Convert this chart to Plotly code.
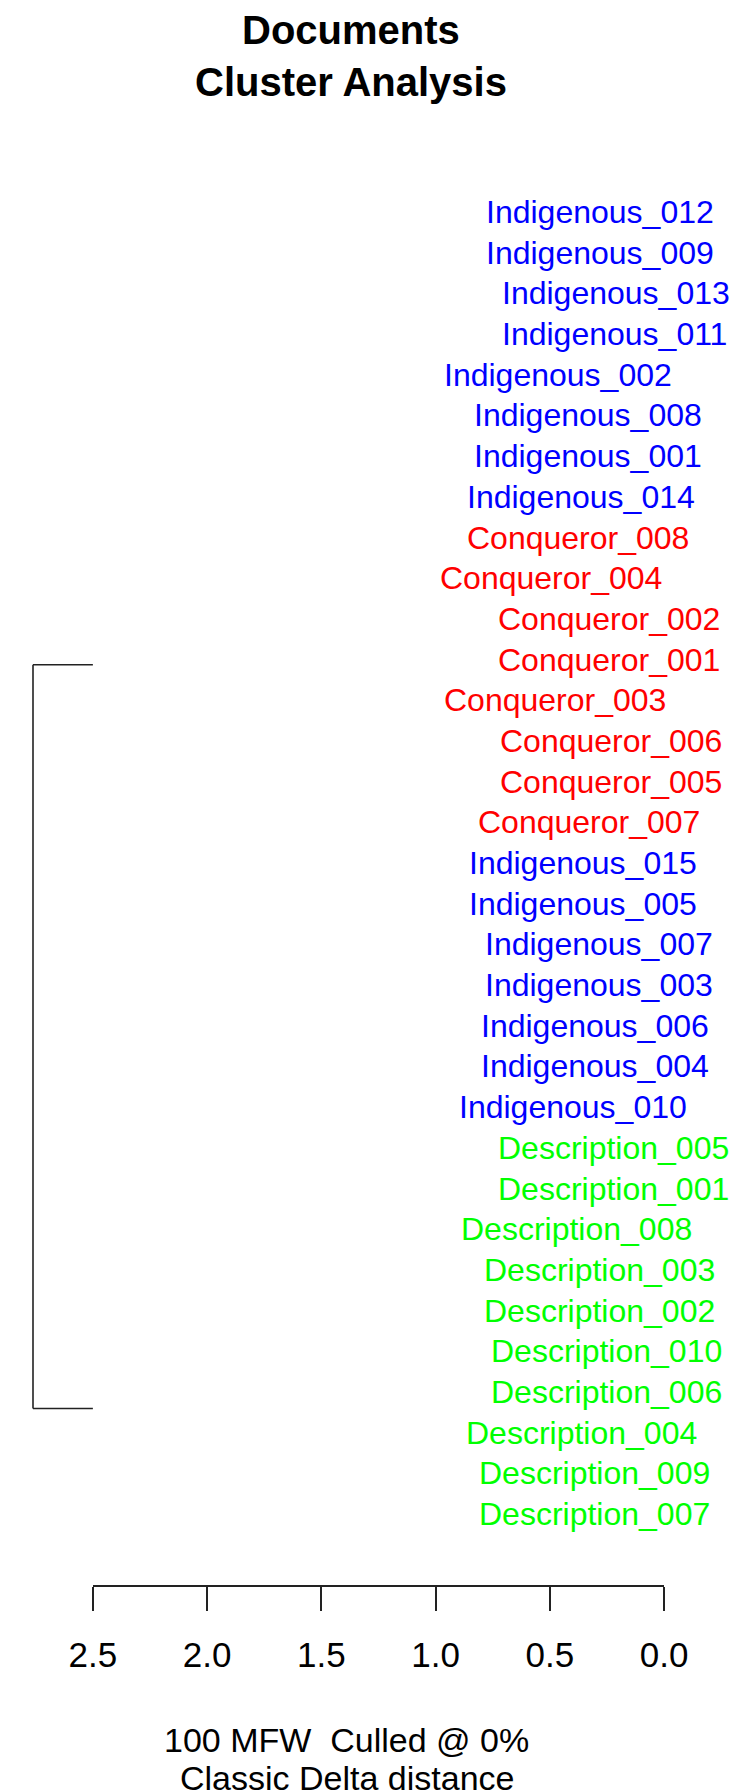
import plotly.graph_objects as go

leaves = ["Indigenous_012","Indigenous_009","Indigenous_013","Indigenous_011","Indigenous_002",
          "Indigenous_008","Indigenous_001","Indigenous_014","Conqueror_008","Conqueror_004",
          "Conqueror_002","Conqueror_001","Conqueror_003","Conqueror_006","Conqueror_005",
          "Conqueror_007","Indigenous_015","Indigenous_005","Indigenous_007","Indigenous_003",
          "Indigenous_006","Indigenous_004","Indigenous_010","Description_005","Description_001",
          "Description_008","Description_003","Description_002","Description_010","Description_006",
          "Description_004","Description_009","Description_007"]
# merges: (node name, left child, right child, height)
merges = [
    ("A","Indigenous_012","Indigenous_009",0.869),
    ("B","Indigenous_013","Indigenous_011",0.799),
    ("C","A","B",0.967),
    ("D","C","Indigenous_002",1.049),
    ("E","Indigenous_008","Indigenous_001",0.918),
    ("F","D","E",1.283),
    ("G","Indigenous_014","Conqueror_008",0.951),
    ("H","G","Conqueror_004",1.070),
    ("I","F","H",1.426),
    ("J","Conqueror_002","Conqueror_001",0.816),
    ("K","J","Conqueror_003",1.053),
    ("L","Conqueror_006","Conqueror_005",0.807),
    ("M","L","Conqueror_007",0.902),
    ("N","K","M",1.139),
    ("O","Indigenous_015","Indigenous_005",0.943),
    ("P","Indigenous_007","Indigenous_003",0.873),
    ("Q","O","P",1.033),
    ("R","Indigenous_006","Indigenous_004",0.889),
    ("S","R","Indigenous_010",0.984),
    ("T","Q","S",1.127),
    ("U","N","T",1.344),
    ("V","I","U",1.459),
    ("W","Description_005","Description_001",0.816),
    ("X","W","Description_008",0.975),
    ("Z","Description_003","Description_002",0.877),
    ("Y","X","Z",0.992),
    ("BB","Description_010","Description_006",0.844),
    ("CC","BB","Description_004",0.955),
    ("AA","Y","CC",1.086),
    ("EE","Description_009","Description_007",0.898),
    ("DD","AA","EE",1.139),
    ("ROOT","V","DD",2.762),
]
colors = {"Indigenous":"#0000FF","Conqueror":"#FF0000","Description":"#00FF00"}
tick_vals = [2.5, 2.0, 1.5, 1.0, 0.5, 0.0]
tick_text = ["2.5","2.0","1.5","1.0","0.5","0.0"]

pos = {n: i for i, n in enumerate(leaves)}
hgt = {n: 0.0 for n in leaves}
parent_h = {}
xs, ys = [], []
for name, a, b, h in merges:
    for c in (a, b):
        parent_h[c] = h
        if c not in leaves:
            xs += [h, hgt[c], None]
            ys += [pos[c], pos[c], None]
    xs += [h, h, None]
    ys += [pos[a], pos[b], None]
    pos[name] = (pos[a] + pos[b]) / 2
    hgt[name] = h

fig = go.Figure()
fig.add_trace(go.Scatter(x=xs, y=ys, mode="lines", line=dict(color="#222222", width=1.6),
                         hoverinfo="skip", showlegend=False))
for n in leaves:
    fig.add_annotation(x=parent_h[n], y=pos[n], text=n, showarrow=False, xanchor="left",
                       yanchor="middle", xshift=18,
                       font=dict(family="Liberation Sans", size=32, color=colors[n.split("_")[0]]))
fig.add_trace(go.Scatter(x=tick_vals, y=[None]*len(tick_vals), xaxis="x2", mode="markers",
                         showlegend=False, hoverinfo="skip"))

W, H = 756, 1790
px0, ppu = 675, 244.0
y0, ypu = 204, 40.69
fig.update_layout(
    width=W, height=H, margin=dict(l=0, r=0, t=0, b=0),
    paper_bgcolor="white", plot_bgcolor="white",
    xaxis=dict(range=[px0/ppu, (px0-W)/ppu], visible=False, domain=[0, 1]),
    yaxis=dict(range=[(H-y0)/ypu, -y0/ypu], visible=False, domain=[0, 1]),
    xaxis2=dict(range=[2.5, 0.0], domain=[65/W, 675/W], anchor="free", position=1-1578/H,
                side="bottom", showline=True, linecolor="#222222", linewidth=1.6,
                ticks="outside", ticklen=24, tickwidth=1.6, tickcolor="#222222",
                tickvals=tick_vals, ticktext=tick_text, showgrid=False, zeroline=False,
                ticklabelstandoff=14,
                tickfont=dict(family="Liberation Sans", size=35, color="black")),
    font=dict(family="Liberation Sans"),
)
fig.add_annotation(x=341/W, y=1-22/H, xref="paper", yref="paper", showarrow=False,
                   text="<b>Documents</b>", yanchor="middle",
                   font=dict(family="Liberation Sans", size=40, color="black"))
fig.add_annotation(x=341/W, y=1-74/H, xref="paper", yref="paper", showarrow=False,
                   text="<b>Cluster Analysis</b>", yanchor="middle",
                   font=dict(family="Liberation Sans", size=40, color="black"))
fig.add_annotation(x=336/W, y=1-1732/H, xref="paper", yref="paper", showarrow=False,
                   text="100 MFW  Culled @ 0%", yanchor="middle",
                   font=dict(family="Liberation Sans", size=34, color="black"))
fig.add_annotation(x=336/W, y=1-1770/H, xref="paper", yref="paper", showarrow=False,
                   text="Classic Delta distance", yanchor="middle",
                   font=dict(family="Liberation Sans", size=34, color="black"))
fig.write_html("out.html")
